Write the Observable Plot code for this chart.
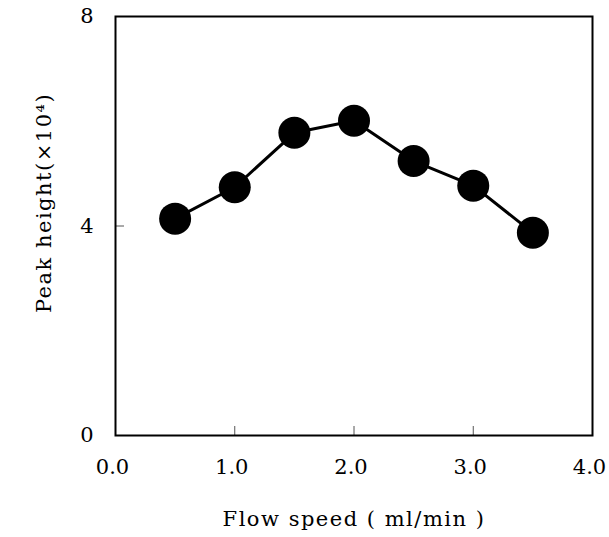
<!DOCTYPE html>
<html>
<head>
<meta charset="utf-8">
<script src="https://cdn.jsdelivr.net/npm/d3@7"></script>
<script src="https://cdn.jsdelivr.net/npm/@observablehq/plot@0.6"></script>
<style>
  html, body { margin: 0; padding: 0; background: #fff; }
  svg { font-family: "DejaVu Serif", "Liberation Serif", serif; }
  svg text { font-size: 21px !important; font-family: "DejaVu Serif", serif !important; }
</style>
</head>
<body>
<div id="chart"></div>
<script>
const flowSpeed = [0.5, 1.0, 1.5, 2.0, 2.5, 3.0, 3.5];
const peakHeight = [4.14, 4.74, 5.78, 6.01, 5.24, 4.77, 3.87];
const xTickLabels = [0, 1, 2, 3, 4];
const yTickLabels = [0, 4, 8];
const xInnerTicks = [1, 2, 3];
const yInnerTicks = [4];
const xTitle = "Flow speed ( ml/min )";
const yTitle = "Peak height(×10⁴)";

const data = flowSpeed.map((x, i) => ({x, y: peakHeight[i]}));

const chart = Plot.plot({
  width: 609,
  height: 537,
  marginLeft: 115,
  marginRight: 17,
  marginTop: 16,
  marginBottom: 102,
  style: {fontFamily: '"DejaVu Serif", serif', color: "#000", background: "#fff"},
  x: {domain: [0, 4]},
  y: {domain: [0, 8]},
  marks: [
    Plot.axisX(xInnerTicks, {tickSize: -9, tickFormat: () => "", stroke: "#555", label: null}),
    Plot.axisY(yInnerTicks, {tickSize: -9, tickFormat: () => "", stroke: "#555", label: null}),
    Plot.axisX(xTickLabels, {tickSize: 0, tickPadding: 24, dx: -3, tickFormat: d => d.toFixed(1),
      label: xTitle, labelAnchor: "center", labelOffset: 90, labelArrow: "none"}),
    Plot.axisY(yTickLabels, {tickSize: 0, tickPadding: 22, tickFormat: d => String(d), label: null}),
    Plot.text([yTitle], {frameAnchor: "left", text: d => d, rotate: -90, dx: -71, dy: -23,
      textAnchor: "middle", fill: "#000"}),
    Plot.frame({stroke: "#000", strokeWidth: 2}),
    Plot.line(data, {x: "x", y: "y", stroke: "#000", strokeWidth: 3}),
    Plot.dot(data, {x: "x", y: "y", r: 16, fill: "#000", stroke: "none"})
  ]
});
d3.select(chart).selectAll("text")
  .filter(function() { const t = this.textContent.trim(); return t === xTitle || t === yTitle; })
  .style("letter-spacing", "1.5px");
document.getElementById("chart").appendChild(chart);
</script>
</body>
</html>
